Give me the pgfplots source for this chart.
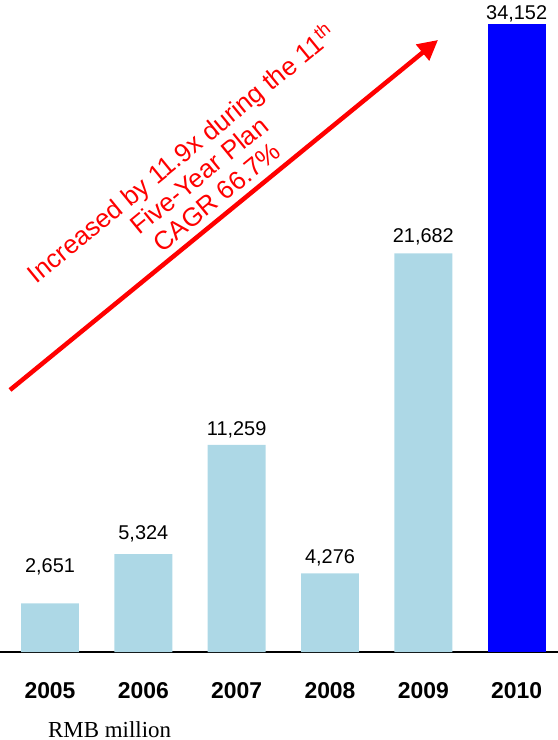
\documentclass[border=0pt]{standalone}
\usepackage{fontspec}
\setmainfont{Liberation Sans}
\newfontfamily\seriffont{Liberation Serif}
\usepackage{pgfplots}
\usepackage{pgfplotstable}
\pgfplotsset{compat=1.18}
\usetikzlibrary{arrows.meta}
\definecolor{lb}{HTML}{ADD8E6}
\definecolor{bb}{HTML}{0000FF}
\definecolor{rr}{HTML}{FF0000}

\pgfplotstableread{
x y dy
0 2651 31
1 5324 15
2 11259 10
3 4276 10
4 21682 11
}\datalb
\pgfplotstableread{
x y dy
5 34152 5
}\databb

\begin{document}
\begin{tikzpicture}[x=1bp,y=1bp]
\path[use as bounding box] (0,-88) rectangle (558,652);
\begin{axis}[
  at={(0,0)}, anchor=south west,
  scale only axis, width=558bp, height=652bp,
  xmin=-0.5357, xmax=5.443, ymin=0, ymax=35458,
  axis x line*=bottom, axis y line=none,
  axis line style={black, line width=1.2bp},
  xtick={0,...,5},
  xticklabels={2005,2006,2007,2008,2009,2010},
  major tick length=0pt,
  xticklabel style={font=\fontsize{23}{27}\selectfont\bfseries, yshift=-27bp},
  ybar, bar width=0.62,
  /pgf/number format/assume math mode=true,
  /pgf/number format/.cd, fixed, precision=0, 1000 sep={,},
  /pgfplots/.cd,
  nodes near coords,
  visualization depends on={\thisrow{dy} \as \dy},
  nodes near coords style={anchor=base, yshift=\dy pt, font=\fontsize{20}{24}\selectfont, text=black},
  clip=false,
]
\addplot[fill=lb, draw=none, bar shift=0pt] table[x=x, y=y] {\datalb};
\addplot[fill=bb, draw=none, bar shift=0pt] table[x=x, y=y] {\databb};
\end{axis}
\draw[rr, line width=4.5bp, -{Triangle[length=20bp, width=20bp]}] (10,262) -- (438,612);
\node[rotate=39.3, text=rr, align=center, font=\fontsize{26}{28}\selectfont, inner sep=0pt] at (198,478)
  {Increased by 11.9x during the 11\textsuperscript{th}\\Five-Year Plan\\CAGR 66.7\%};
\node[anchor=base west, font=\seriffont\fontsize{23}{27}\selectfont, inner sep=0pt] at (48,-85) {RMB million};
\end{tikzpicture}
\end{document}
